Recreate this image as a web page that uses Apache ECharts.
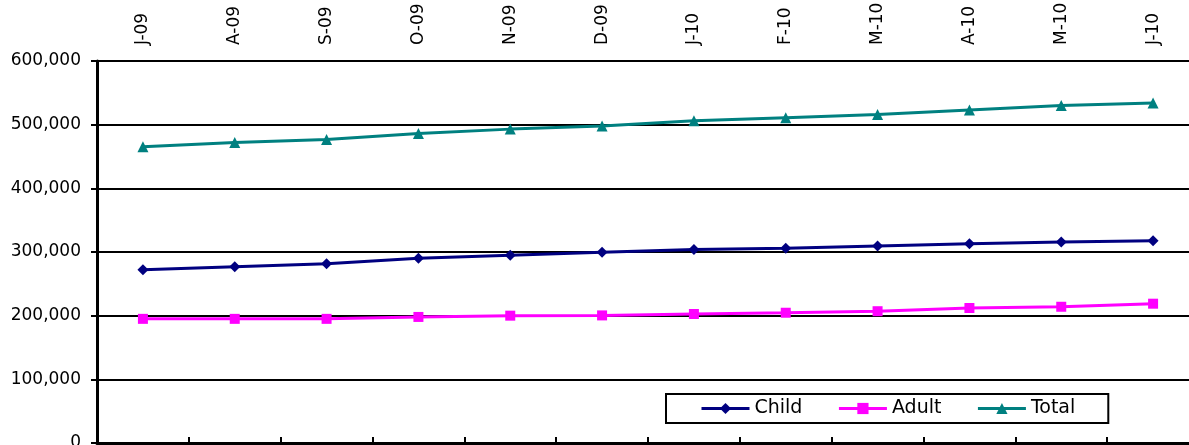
<!DOCTYPE html>
<html>
<head>
<meta charset="utf-8">
<script src="https://cdn.jsdelivr.net/npm/echarts@6/dist/echarts.min.js"></script>
<style>html,body{margin:0;padding:0;background:#fff;}#c{width:1189px;height:445px;}</style>
</head>
<body>
<div id="c"></div>
<script>
var categories = ['J-09','A-09','S-09','O-09','N-09','D-09','J-10','F-10','M-10','A-10','M-10','J-10'];
var childValues = [272000,277000,281500,290000,295000,299500,304000,306000,309500,313000,315800,317800];
var adultValues = [195000,195000,195000,198000,200000,200400,202600,204600,207000,212000,214000,218800];
var totalValues = [465500,472000,476600,486000,493000,498000,506000,511000,516000,523000,530000,534000];
var yTicks = [0,100000,200000,300000,400000,500000,600000];

var font = 'DejaVu Sans';
var chart = echarts.init(document.getElementById('c'), null, {renderer:'canvas'});
chart.setOption({
  backgroundColor:'#fff',
  animation:false,
  grid:{left:97, top:61, right:-10, bottom:2, containLabel:false, outerBoundsMode:'none'},
  xAxis:{
    type:'category', position:'top', data:categories, boundaryGap:true,
    axisLine:{show:true, lineStyle:{color:'#000', width:3}},
    axisTick:{show:true, inside:false, length:6, lineStyle:{color:'#000', width:2}},
    axisLabel:{rotate:90, margin:16, color:'#000', fontFamily:font, fontSize:17, interval:0},
    splitLine:{show:false}
  },
  yAxis:{
    type:'value', min:0, max:600000, interval:100000,
    axisLine:{show:true, lineStyle:{color:'#000', width:3}},
    axisTick:{show:true, length:6, lineStyle:{color:'#000', width:2}},
    axisLabel:{margin:16, color:'#000', fontFamily:font, fontSize:17,
      formatter:function(v){ return v.toLocaleString('en-US'); }},
    splitLine:{show:true, lineStyle:{color:'#000', width:2}}
  },
  legend:{
    left:666, top:394,
    borderColor:'#000', borderWidth:2, padding:[5,33,5,34],
    itemWidth:48, itemHeight:14, itemGap:35,
    lineStyle:{width:3},
    textStyle:{color:'#000', fontFamily:font, fontSize:19},
    data:['Child','Adult','Total']
  },
  series:[
    {name:'Child', type:'line', data:childValues, symbol:'diamond', symbolSize:11,
     lineStyle:{color:'#000080', width:3}, itemStyle:{color:'#000080'}},
    {name:'Adult', type:'line', data:adultValues, symbol:'rect', symbolSize:10,
     lineStyle:{color:'#FF00FF', width:3}, itemStyle:{color:'#FF00FF'}},
    {name:'Total', type:'line', data:totalValues, symbol:'triangle', symbolSize:11,
     lineStyle:{color:'#008080', width:3}, itemStyle:{color:'#008080'}}
  ]
});
</script>
</body>
</html>
